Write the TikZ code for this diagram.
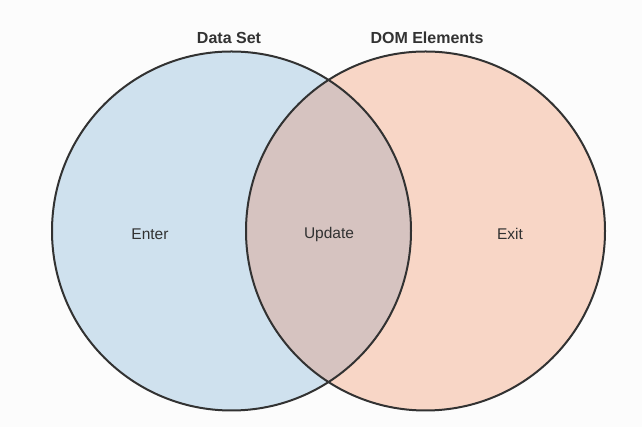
\documentclass[tikz,border=0pt]{standalone}
\usepackage{fontspec}
\setmainfont{Liberation Sans}
\definecolor{setblue}{RGB}{207,225,238}
\definecolor{domsalmon}{RGB}{248,214,198}
\definecolor{bothmix}{RGB}{214,195,192}
\definecolor{rimgray}{RGB}{50,50,50}
\begin{document}
\begin{tikzpicture}[x=1pt,y=1pt,
  rim/.style={draw=rimgray,line width=2pt},
  title/.style={font=\fontsize{16}{19}\selectfont\bfseries,text=rimgray},
  part/.style={font=\fontsize{15.5}{18}\selectfont,text=rimgray}]
   \useasboundingbox (0,0) rectangle (642,427);
   \fill[white!98!gray] (0,0) rectangle (642,427);
   \coordinate (dataC) at (231.5,196);
   \coordinate (domC) at (425.5,196);

   \fill[setblue] (dataC) circle (179.5);
   \fill[domsalmon] (domC) circle (179.5);
   \begin{scope}
    \clip (dataC) circle (179.5);
    \fill[bothmix] (domC) circle (179.5);
   \end{scope}
   \draw[rim] (dataC) circle (179.5);
   \draw[rim] (domC) circle (179.5);

   \node[title] (dataT) at (229,389) {Data Set};
   \node[title] (domT) at (427,389) {DOM Elements};
   \node[part] (enter) at (150,193) {Enter};
   \node[part] (update) at (329,193) {Update};
   \node[part] (exit) at (510,193) {Exit};
  \end{tikzpicture}
\end{document}
